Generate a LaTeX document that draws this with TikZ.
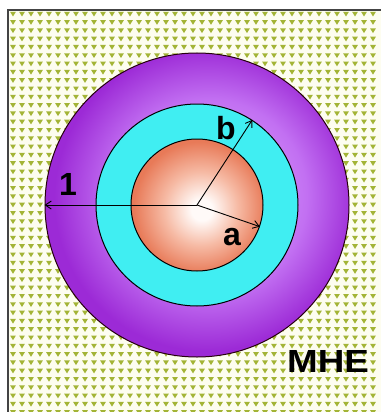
\documentclass[tikz,border=0pt]{standalone}
\usepackage{fontspec}
\setmainfont{Liberation Sans}
\usetikzlibrary{arrows.meta}
\definecolor{olivetri}{HTML}{A3B436}
\definecolor{bgcream}{HTML}{FDFDF0}
\definecolor{frameline}{HTML}{444444}
\definecolor{purpleA}{HTML}{E2B0FF}
\definecolor{purpleB}{HTML}{C270F2}
\definecolor{purpleC}{HTML}{9C2AD6}
\definecolor{cyanA}{HTML}{A8FFFF}
\definecolor{cyanB}{HTML}{40EEF2}
\definecolor{orangeA}{HTML}{FFFAF8}
\definecolor{orangeB}{HTML}{F6BAA4}
\definecolor{orangeC}{HTML}{E87A58}
\pgfdeclareradialshading{purpleshade}{\pgfpoint{3bp}{2bp}}{color(0bp)=(purpleA); color(16bp)=(purpleB); color(25bp)=(purpleC); color(50bp)=(purpleC)}
\pgfdeclareradialshading{cyanshade}{\pgfpoint{3bp}{0bp}}{color(0bp)=(cyanA); color(12bp)=(cyanB); color(25bp)=(cyanB); color(50bp)=(cyanB)}
\pgfdeclareradialshading{orangeshade}{\pgfpoint{2bp}{-2bp}}{color(0bp)=(orangeA); color(4bp)=(orangeA); color(14bp)=(orangeB); color(25bp)=(orangeC); color(50bp)=(orangeC)}
\tikzset{
  ring/.style={circle, inner sep=0pt, draw=black, line width=1pt},
  radius line/.style={draw=black, line width=0.9pt},
  radius arrow/.style={radius line, -{Straight Barb[length=6pt,width=8pt]}},
  biglabel/.style={font=\fontsize{32}{34}\selectfont\bfseries, inner sep=0pt},
}
\begin{document}
\begin{tikzpicture}[x=1pt, y=-1pt]
\useasboundingbox (0,0) rectangle (381,412);
\fill[white] (0,0) rectangle (381,412);
% frame and pattern
\fill[bgcream] (8,10) rectangle (381,412);
\foreach \j in {0,...,48} {
  \fill[olivetri]
    \foreach \i in {0,...,40} {
      ({13+9*\i-2.9},{14+8.3*\j-2.2}) -- ({13+9*\i+2.9},{14+8.3*\j-2.2}) -- ({13+9*\i},{14+8.3*\j+2.5}) -- cycle
    };
}
\draw[frameline, line width=1.2pt] (8,412) -- (8,10) -- (381,10);
% circles
\coordinate (O) at (197,205);
\node[ring, minimum size=304pt, shading=purpleshade, draw=black!80!purple] (outer) at (O) {};
\node[ring, minimum size=202pt, shading=cyanshade] (mid) at (O) {};
\node[ring, minimum size=132pt, shading=orangeshade] (core) at (O) {};
% radii
\draw[radius arrow] (O) -- (outer.180);
\draw[radius arrow] (O) -- (mid.57);
\draw[radius arrow] (O) -- (core.-19);
% labels
\node[biglabel] (l1) at (68,184) {1};
\node[biglabel] (lb) at (226,128) {b};
\node[biglabel] (la) at (232,237) {a};
\node[biglabel, xscale=1.15] (mhe) at (328,361) {MHE};
\end{tikzpicture}
\end{document}
